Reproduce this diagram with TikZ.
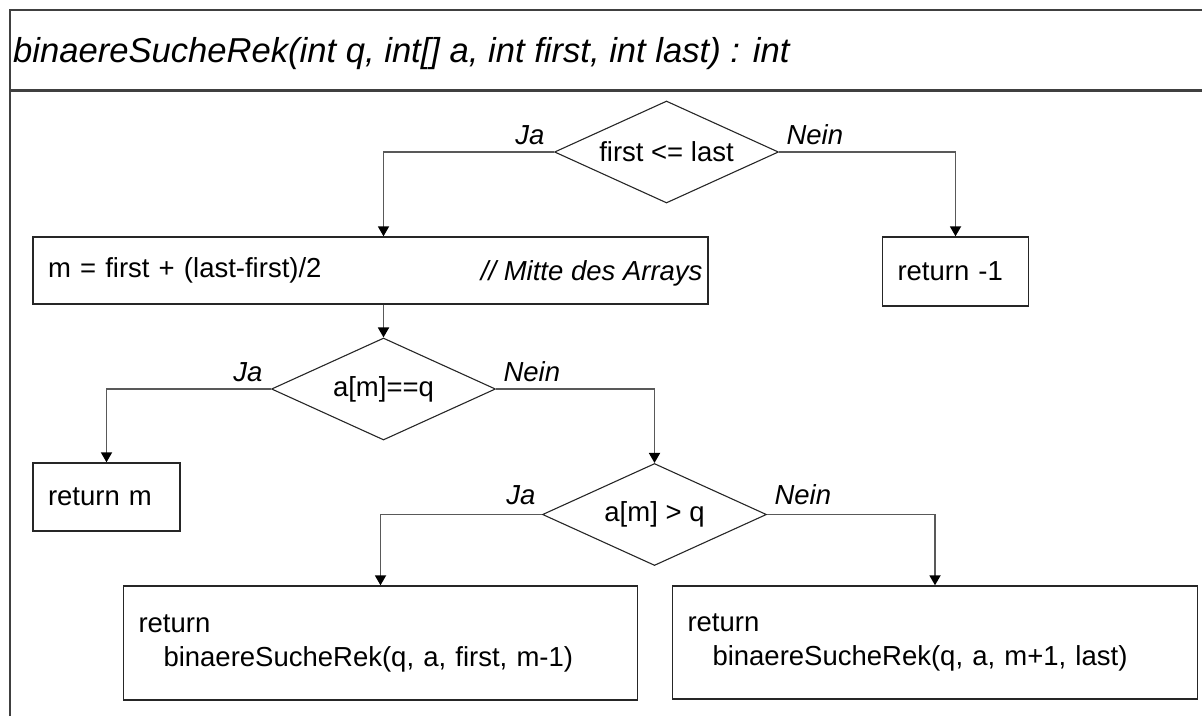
\documentclass[tikz,border=0pt]{standalone}
\usepackage{fontspec}
\setmainfont{Liberation Sans}
\usetikzlibrary{shapes.geometric,arrows.meta}
\begin{document}
\begin{tikzpicture}[x=1pt,y=-1pt,
  every node/.style={font=\fontsize{27.5}{34}\selectfont},
  frame/.style={draw=black!75, line width=2.6pt},
  proc/.style={draw=black!85, line width=1.4pt, rectangle, inner xsep=15pt, inner ysep=0pt, align=left},
  test/.style={draw=black!85, line width=1.1pt, diamond, inner sep=0pt, aspect=2.2,
    minimum width=224pt, minimum height=102pt},
  branch/.style={font=\fontsize{27.5}{34}\selectfont\itshape},
  flow/.style={draw=black!65, line width=1.8pt,
    -{Triangle[width=11pt,length=10pt,color=black]}}
]
\useasboundingbox (0,0) rectangle (1202,716);

% outer frame with header bar
\draw[frame] (10,716) -- (10,10) -- (1202,10);
\draw[frame] (10,90.5) -- (1202,90.5);
\node[font=\fontsize{34.6}{42}\selectfont\itshape, anchor=base west, inner sep=0pt] (title) at (13,62)
  {binaereSucheRek(int q, int[] a, int first, int last) : int};

% decisions
\node[test] (c1) at (666.5,152) {first <= last};
\node[test] (c2) at (383.5,389) {a[m]==q};
\node[test] (c3) at (654.5,514.5) {a[m] > q};

% statements
\node[proc, text width=645pt, minimum height=67pt] (s1) at (370.5,270.5) {m = first + (last-first)/2};
\node[branch, anchor=base east] (s1c) at (706,280) {// Mitte des Arrays};
\node[proc, text width=116pt, minimum height=69pt] (r1) at (955.5,271.5) {return -1};
\node[proc, text width=117pt, minimum height=68pt] (r2) at (106.5,497) {return m};
\node[proc, text width=484pt, minimum height=114pt] (r3) at (380.5,643)
  {return\\\hspace*{25pt}binaereSucheRek(q, a, first, m-1)};
\node[proc, text width=495pt, minimum height=113pt] (r4) at (935,642.5)
  {return\\\hspace*{25pt}binaereSucheRek(q, a, m+1, last)};

% branch labels
\node[branch, anchor=base east] (ja1) at ([shift={(-6,-8)}]c1.west) {Ja};
\node[branch, anchor=base west] (ne1) at ([shift={(4,-8)}]c1.east) {Nein};
\node[branch, anchor=base east] (ja2) at ([shift={(-5,-8)}]c2.west) {Ja};
\node[branch, anchor=base west] (ne2) at ([shift={(4,-8)}]c2.east) {Nein};
\node[branch, anchor=base east] (ja3) at ([shift={(-3,-10)}]c3.west) {Ja};
\node[branch, anchor=base west] (ne3) at ([shift={(4,-10)}]c3.east) {Nein};

% connectors
\draw[flow] (c1.west) -| (s1.north -| c2.north);
\draw[flow] (c1.east) -| (r1.north);
\draw[flow] (s1.south -| c2.north) -- (c2.north);
\draw[flow] (c2.west) -| (r2.north);
\draw[flow] (c2.east) -| (c3.north);
\draw[flow] (c3.west) -| (r3.north);
\draw[flow] (c3.east) -| (r4.north);
\end{tikzpicture}
\end{document}
